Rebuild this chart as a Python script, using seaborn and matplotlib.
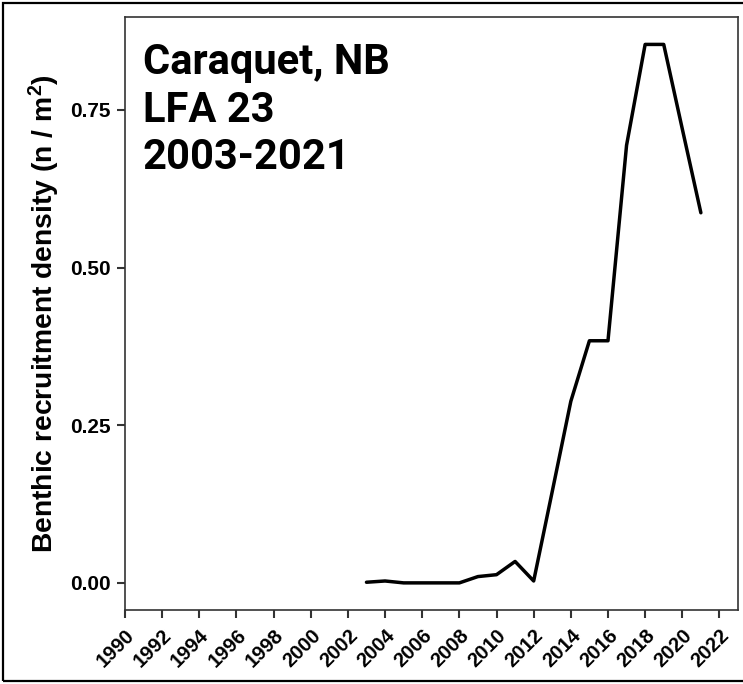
import numpy as np
import pandas as pd
import matplotlib
matplotlib.use('Agg')
import matplotlib.pyplot as plt
import matplotlib.patches as mpatches
import seaborn as sns

# data
years = np.arange(2003, 2022)
density = [0.001, 0.003, 0.0, 0.0, 0.0, 0.0, 0.010, 0.013, 0.034, 0.003,
           0.145, 0.288, 0.384, 0.384, 0.694, 0.854, 0.854, 0.720, 0.587]
x_ticks = np.arange(1990, 2023, 2)
y_ticks = [0.0, 0.25, 0.5, 0.75]
title_text = 'Caraquet, NB\nLFA 23\n2003-2021'

df = pd.DataFrame({'year': years, 'density': density})

sns.set_theme(style='white')
plt.rcParams['font.family'] = ['Liberation Sans', 'DejaVu Sans']
plt.rcParams['font.weight'] = 'bold'
plt.rcParams['text.color'] = 'black'
plt.rcParams['axes.labelcolor'] = 'black'
plt.rcParams['axes.labelweight'] = 'bold'
plt.rcParams['mathtext.fontset'] = 'custom'
plt.rcParams['mathtext.rm'] = 'Liberation Sans:bold'
plt.rcParams['mathtext.bf'] = 'Liberation Sans:bold'
plt.rcParams['mathtext.default'] = 'rm'

fig = plt.figure(figsize=(7.43, 6.84), dpi=100)
ax = fig.add_axes([0.1682, 0.1082, 0.8251, 0.8665])

sns.lineplot(data=df, x='year', y='density', color='black', linewidth=2.5, ax=ax)

ax.set_xlim(1990, 2023)
ax.set_ylim(-0.043, 0.897)
ax.set_xticks(x_ticks)
ax.set_yticks(y_ticks)
ax.set_yticklabels([f'{v:.2f}' for v in y_ticks])
ax.set_xticklabels([str(v) for v in x_ticks], rotation=45, ha='right',
                   va='top', rotation_mode='anchor')
ax.tick_params(axis='both', which='both', direction='out', length=5.5, width=1.5,
               color='#333333', labelcolor='black', bottom=True, left=True)
ax.tick_params(axis='y', labelsize=15, pad=5)
ax.tick_params(axis='x', labelsize=14.5, pad=6)

for sp in ax.spines.values():
    sp.set_color('#333333')
    sp.set_linewidth(1.2)

ax.set_xlabel('')
ax.set_ylabel(r'Benthic recruitment density (n / m$^2$)', fontsize=20.3,
              fontweight='bold')
ax.yaxis.set_label_coords(-0.103, 0.5)

ax.text(0.029, 0.958, title_text, transform=ax.transAxes, ha='left', va='top',
        fontsize=30, fontweight='bold', family=['Roboto', 'DejaVu Sans'],
        color='black', linespacing=1.2)

# outer frame around the whole figure
frame = mpatches.Rectangle((0.004, 0.004), 1.2, 0.992, transform=fig.transFigure,
                           fill=False, edgecolor='black', linewidth=1.6)
fig.patches.append(frame)

fig.savefig('out.png', dpi=100)
